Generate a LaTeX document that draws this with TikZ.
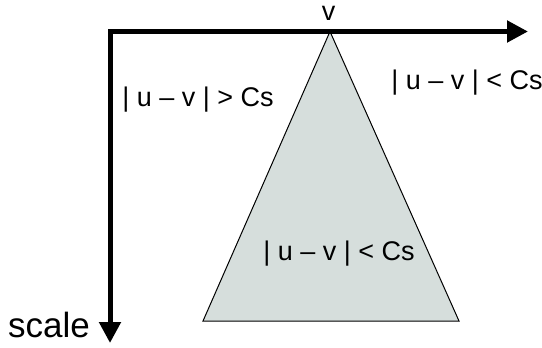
\documentclass[tikz,border=0pt]{standalone}
\usepackage{fontspec}
\setmainfont{Liberation Sans}
\usetikzlibrary{arrows.meta}
\definecolor{trifill}{RGB}{214,222,220}
\tikzset{
  axis/.style={line width=5pt, -{Triangle[length=21pt,width=21pt]}},
  lbl/.style={inner sep=0pt, font=\fontsize{27}{30}\selectfont},
}
\begin{document}
\begin{tikzpicture}[x=1pt,y=-1pt]
\useasboundingbox (0,0) rectangle (542,348);
\coordinate (O) at (110,31.5);
\coordinate (H) at (528,31.5);
\coordinate (V) at (110,343);
\coordinate (A) at (330,31.5);
\coordinate (BL) at (203,321);
\coordinate (BR) at (459,321);
\filldraw[fill=trifill, draw=black, line width=1pt, line join=miter] (A) -- (BL) -- (BR) -- cycle;
\draw[axis] (O) -- (H);
\draw[axis] (O) -- (V);
\fill (107.5,29) rectangle (112.5,34);
\node[lbl, anchor=base] (vlab) at (328.5,20) {v};
\node[lbl] (l1) at (198,99.5) {| u – v | > Cs};
\node[lbl] (l2) at (467,83) {| u – v | < Cs};
\node[lbl] (l3) at (339,254) {| u – v | < Cs};
\node[inner sep=0pt, font=\fontsize{35}{40}\selectfont] (sc) at (49,325) {scale};
\end{tikzpicture}
\end{document}
